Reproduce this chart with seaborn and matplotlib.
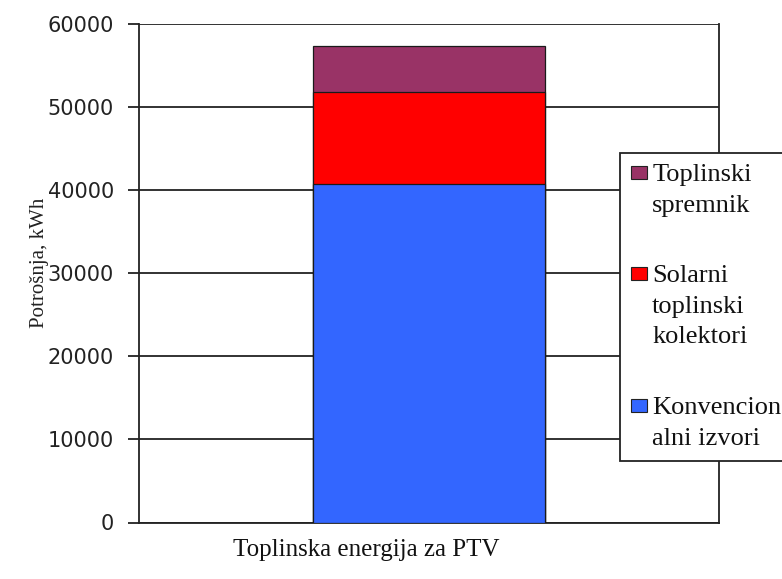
import numpy as np
import pandas as pd
import matplotlib
matplotlib.use("Agg")
import matplotlib.pyplot as plt
import matplotlib.transforms as mtransforms
from matplotlib.patches import Patch, Rectangle
from matplotlib.legend_handler import HandlerPatch
import seaborn as sns

# Data (kWh)
categories = ["Toplinska energija za PTV"]
konvencionalni = [40700]
solarni = [11100]
spremnik = [5600]

series_names = ["Konvencion\nalni izvori", "Solarni\ntoplinski\nkolektori", "Toplinski\nspremnik"]
series_colors = ["#3366FF", "#FF0000", "#993366"]

df = pd.DataFrame({
    "kategorija": categories,
    "konv": konvencionalni,
    "sol": solarni,
    "spr": spremnik,
})
# cumulative totals so the bars can be drawn back to front
df["c1"] = df["konv"]
df["c2"] = df["konv"] + df["sol"]
df["c3"] = df["konv"] + df["sol"] + df["spr"]

sns.set_style("white")
fig = plt.figure(figsize=(7.82, 5.79), dpi=100)
ax = fig.add_axes([139 / 782, 1 - 522.5 / 579, (719 - 139) / 782, (522.5 - 24) / 579])

for col, color in zip(["c3", "c2", "c1"], series_colors[::-1]):
    sns.barplot(data=df, x="kategorija", y=col, color=color, width=0.4,
                edgecolor="#1a1a1a", linewidth=0.9, saturation=1, ax=ax, zorder=3)

ax.set_xlim(-0.5, 0.5)
ax.set_ylim(0, 60000)
ax.set_yticks(np.arange(0, 60001, 10000))
ax.set_yticklabels([str(v) for v in range(0, 60001, 10000)], fontfamily="DejaVu Sans", fontsize=15, color="#222222")
ax.yaxis.grid(True, color="#222222", linewidth=1.3, zorder=0)
ax.set_axisbelow(True)

ax.set_xticks([0])
ax.set_xticklabels(categories, fontfamily="Liberation Serif", fontsize=18, color="#111111")
ax.tick_params(axis="x", length=0, pad=12)
off = mtransforms.ScaledTranslation(-63 / 100, 0, fig.dpi_scale_trans)
for lbl in ax.get_xticklabels():
    lbl.set_transform(lbl.get_transform() + off)
ax.set_xticks([-0.5, 0.5], minor=True)
ax.tick_params(axis="x", which="minor", length=9, width=1.3, color="#222222", direction="out")
ax.tick_params(axis="y", length=8, width=1.3, color="#222222", direction="out", left=True, pad=10)

ax.set_xlabel("")
ax.set_ylabel("Potrošnja, kWh", fontfamily="Liberation Serif", fontsize=15, color="#222222")
ax.yaxis.set_label_coords(-0.155, 0.52)

for side in ["left", "bottom", "right"]:
    ax.spines[side].set_visible(True)
    ax.spines[side].set_color("#222222")
    ax.spines[side].set_linewidth(1.3)
ax.spines["top"].set_visible(False)


# legend handles sit next to the first line of each label
class TopHandler(HandlerPatch):
    def __init__(self, nlines, step):
        super().__init__()
        self.shift = (nlines - 1) / 2 * step

    def create_artists(self, legend, orig_handle, xdescent, ydescent, width, height, fontsize, trans):
        r = Rectangle((-xdescent, -ydescent + self.shift + 1), width, height,
                      facecolor=orig_handle.get_facecolor(), edgecolor="#222222", linewidth=0.8)
        r.set_transform(trans)
        return [r]


fs = 19
step = 31 * 0.72  # line step in points
handles = [Patch(facecolor=c, label=n) for n, c in zip(series_names, series_colors)][::-1]
labels = series_names[::-1]
hmap = {h: TopHandler(l.count("\n") + 1, step) for h, l in zip(handles, labels)}
leg = fig.legend(handles, labels, handler_map=hmap, loc="upper left",
                 bbox_to_anchor=(620 / 782, 1 - 153 / 579), borderaxespad=0,
                 prop={"family": "Liberation Serif", "size": fs}, frameon=True, fancybox=False,
                 edgecolor="#222222", facecolor="white", framealpha=1,
                 handlelength=0.6, handleheight=0.4, handletextpad=0.2,
                 labelspacing=1.85, borderpad=0.42)
leg.get_frame().set_linewidth(1.3)
for t in leg.get_texts():
    t.set_color("#111111")
    t.set_linespacing(1.5)

fig.savefig("out.png", dpi=100)
